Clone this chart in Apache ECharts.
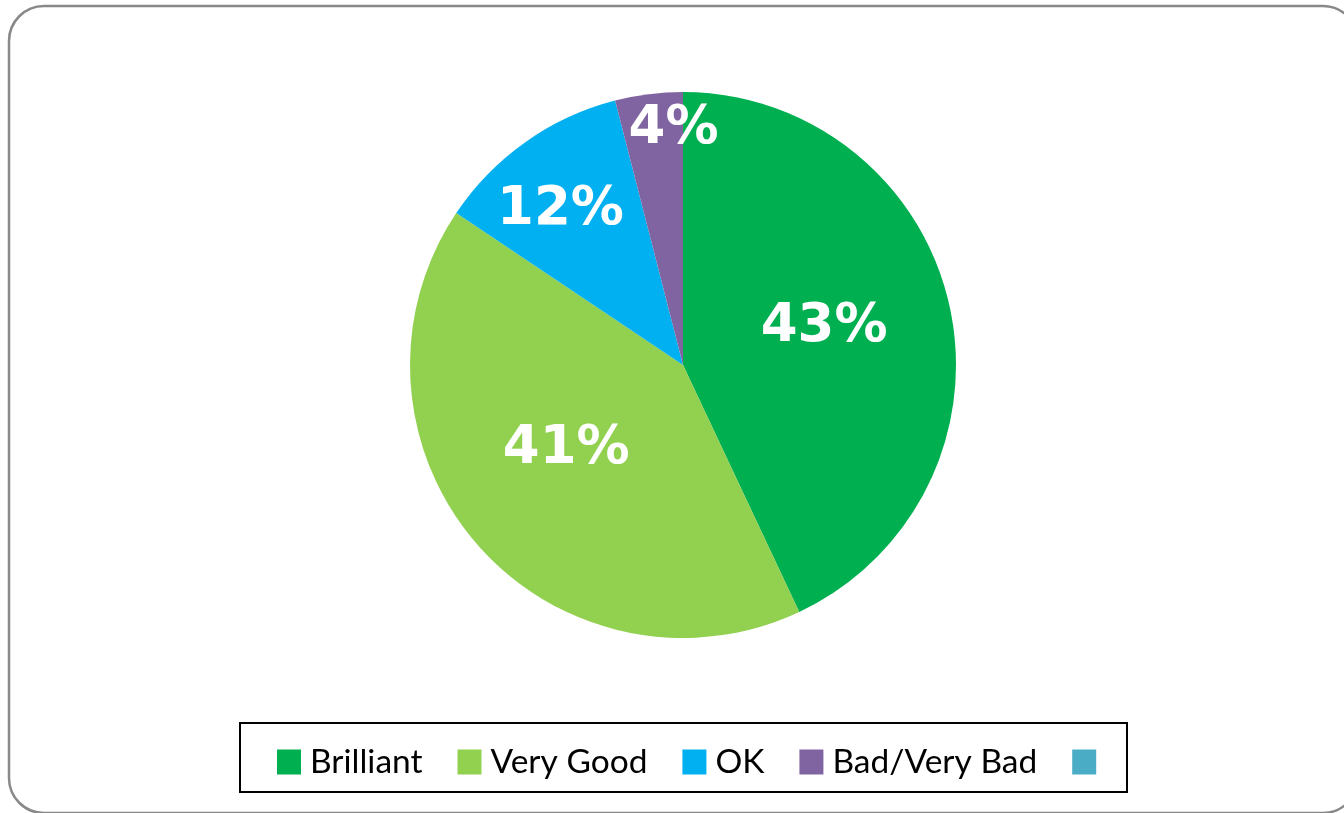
<!DOCTYPE html>
<html>
<head>
<meta charset="utf-8">
<script src="https://cdn.jsdelivr.net/npm/echarts@6/dist/echarts.min.js"></script>
<style>
html,body{margin:0;padding:0;background:#fff;}
#chart{width:1344px;height:813px;}
</style>
</head>
<body>
<div id="chart"></div>
<script>
var categories = ['Brilliant', 'Very Good', 'OK', 'Bad/Very Bad', ' '];
var values = [43.0, 41.4, 11.6, 4.0, 0];
var colors = ['#00B050', '#92D050', '#00B0F0', '#8064A2', '#4BACC6'];
var labelOffsets = [[5, -7], [-11, -7], [-42, -41], [8, -97], [0, 0]];

var chart = echarts.init(document.getElementById('chart'), null, {renderer: 'canvas'});
var data = categories.map(function (c, i) {
  return {
    name: c,
    value: values[i],
    itemStyle: {color: colors[i]},
    label: {show: values[i] > 0, offset: labelOffsets[i]}
  };
});
var option = {
  animation: false,
  backgroundColor: '#ffffff',
  graphic: [
    {type: 'rect', shape: {x: 9, y: 6, width: 1349, height: 807, r: 35},
     style: {fill: 'none', stroke: '#898989', lineWidth: 2.5}, silent: true},
    {type: 'rect', shape: {x: 240, y: 723, width: 887, height: 69},
     style: {fill: 'none', stroke: '#000000', lineWidth: 2}, silent: true}
  ],
  legend: {
    data: categories,
    left: 272,
    top: 740,
    itemWidth: 24,
    itemHeight: 25,
    itemGap: 35,
    icon: 'rect',
    textStyle: {fontFamily: 'Lato', fontSize: 33.5, color: '#000', padding: [0, 0, 0, 4]}
  },
  series: [{
    type: 'pie',
    center: [683, 365],
    radius: [0, 273],
    startAngle: 90,
    clockwise: true,
    avoidLabelOverlap: false,
    itemStyle: {borderWidth: 0},
    label: {
      position: 'inside',
      formatter: function (p) { return Math.round(p.value) + '%'; },
      color: '#ffffff',
      fontFamily: 'DejaVu Sans',
      fontWeight: 'bold',
      fontSize: 53
    },
    labelLine: {show: false},
    emphasis: {disabled: true},
    data: data
  }]
};
chart.setOption(option);
</script>
</body>
</html>
